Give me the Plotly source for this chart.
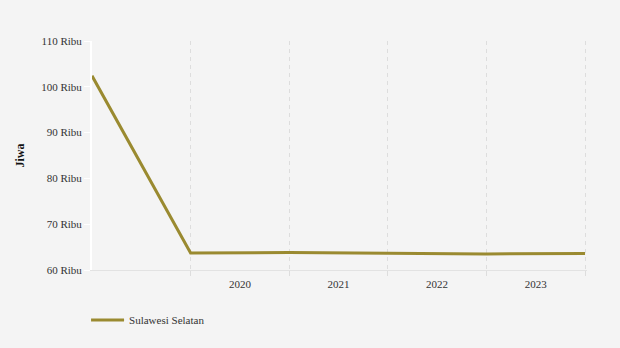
import plotly.graph_objects as go

# Data
x_pos = [0, 1, 2, 3, 4, 5]
values = [102400, 63700, 63800, 63600, 63500, 63600]
series_name = "Sulawesi Selatan"
x_tick_vals = [1.5, 2.5, 3.5, 4.5]
x_tick_text = ["2020", "2021", "2022", "2023"]
grid_vals = [1, 2, 3, 4, 5]
y_tick_vals = [60000, 70000, 80000, 90000, 100000, 110000]
y_tick_text = ["60 Ribu", "70 Ribu", "80 Ribu", "90 Ribu", "100 Ribu", "110 Ribu"]

fig = go.Figure()
fig.add_trace(go.Scatter(
    x=x_pos, y=values, mode="lines", name=series_name,
    line=dict(color="#9a8a30", width=3),
    showlegend=True,
))

font_family = "Liberation Serif, Times New Roman, serif"
fig.update_layout(
    width=620, height=348,
    paper_bgcolor="#f4f4f4", plot_bgcolor="#f4f4f4",
    margin=dict(l=92, r=33, t=41, b=78),
    font=dict(family=font_family, size=11, color="#333333"),
    showlegend=True,
    legend=dict(orientation="h", x=-0.012, xanchor="left", y=-0.155, yanchor="top",
                itemwidth=33,
                font=dict(family=font_family, size=11, color="#333333"),
                bgcolor="rgba(0,0,0,0)"),
    xaxis=dict(
        range=[0, 5.02], tickmode="array", tickvals=x_tick_vals, ticktext=x_tick_text,
        showgrid=False, zeroline=False, ticks="", ticklabelstandoff=4,
        showline=True, linecolor="#e2e2e2", linewidth=1,
        minor=dict(tickmode="array", tickvals=grid_vals, showgrid=True,
                   gridcolor="#dddddd", griddash="4px,4px", gridwidth=1,
                   ticks="outside", ticklen=5, tickcolor="#dddddd"),
        fixedrange=True,
    ),
    yaxis=dict(
        range=[60000, 110000], tickmode="array", tickvals=y_tick_vals, ticktext=y_tick_text,
        showgrid=False, zeroline=False,
        showline=True, linecolor="#ffffff", linewidth=2,
        ticks="outside", ticklen=6, tickcolor="#ffffff", tickwidth=1,
        title=dict(text="<b>Jiwa</b>", font=dict(family=font_family, size=12, color="#111111"), standoff=14),
        fixedrange=True,
    ),
)

fig.write_html("out.html")
